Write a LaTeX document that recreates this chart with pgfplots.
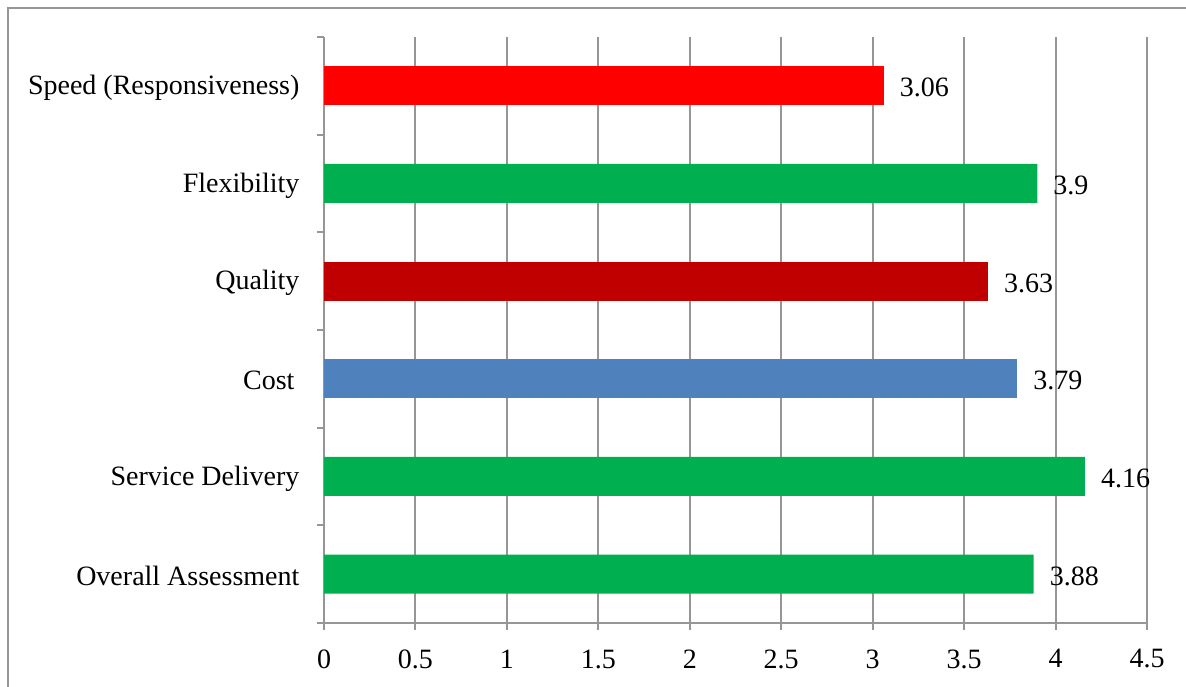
\documentclass[border=0pt]{standalone}
\usepackage{fontspec}
\setmainfont{Liberation Serif}
\usepackage{pgfplots}
\pgfplotsset{compat=1.18}
\definecolor{cred}{HTML}{FF0000}
\definecolor{cgreen}{HTML}{00B050}
\definecolor{cdred}{HTML}{C00000}
\definecolor{cblue}{HTML}{4F81BD}
\definecolor{cgrid}{HTML}{969696}
\begin{document}
\begin{tikzpicture}
\path[use as bounding box] (0,0) rectangle (1186pt,687pt);
\clip (0,0) rectangle (1186pt,687pt);
\draw[cgrid, line width=2pt] (8pt,679pt) rectangle (1200pt,-20pt);
\begin{axis}[
  at={(324pt,64pt)}, anchor=south west,
  scale only axis, width=823pt, height=586pt,
  xbar, bar width=39pt,
  every axis plot/.append style={bar shift=0pt, draw=none},
  xmin=0, xmax=4.5,
  ymin=-0.5, ymax=5.5,
  xtick={0,0.5,...,4.5},
  ytick={0,1,2,3,4,5},
  yticklabels={Overall Assessment, Service Delivery, {Cost\kern5pt\mbox{}}, Quality, Flexibility, Speed (Responsiveness)},
  minor ytick={-0.5,0.5,1.5,2.5,3.5,4.5,5.5},
  ytick style={draw=none},
  minor y tick style={draw=cgrid, line width=2pt},
  x tick style={draw=cgrid, line width=2pt},
  tick align=outside,
  major tick length=7pt, minor tick length=7pt,
  xmajorgrids=true,
  major x grid style={draw=cgrid, line width=2pt},
  axis x line*=bottom, axis y line*=left,
  axis line style={draw=cgrid, line width=2pt, -},
  font=\fontsize{28pt}{33pt}\selectfont,
  tick label style={font=\fontsize{28pt}{33pt}\selectfont},
  yticklabel style={xshift=-14pt, yshift=-2pt},
  xticklabel style={yshift=-16pt},
  /pgf/number format/assume math mode=true,
  nodes near coords,
  point meta=x,
  nodes near coords style={anchor=west, inner sep=0pt, xshift=16pt, yshift=-2pt, font=\fontsize{28pt}{33pt}\selectfont, text=black},
  clip=false,
]
\addplot[fill=cred] coordinates {(3.06,5)};
\addplot[fill=cgreen] coordinates {(3.9,4) (4.16,1) (3.88,0)};
\addplot[fill=cdred] coordinates {(3.63,3)};
\addplot[fill=cblue] coordinates {(3.79,2)};
\end{axis}
\end{tikzpicture}
\end{document}
